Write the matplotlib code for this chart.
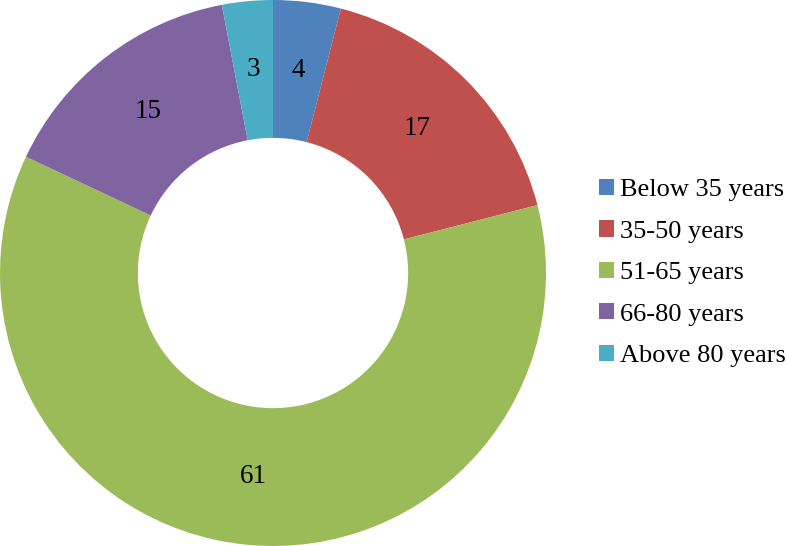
import matplotlib
matplotlib.use('Agg')
import matplotlib.pyplot as plt
from matplotlib.patches import Patch
import numpy as np

plt.rcParams['font.family'] = ['Liberation Serif', 'DejaVu Serif']

labels = ['Below 35 years', '35-50 years', '51-65 years', '66-80 years', 'Above 80 years']
values = [4, 17, 61, 15, 3]
colors = ['#4F81BD', '#C0504D', '#9BBB59', '#8064A2', '#4BACC6']

fig = plt.figure(figsize=(7.87, 5.46), dpi=100)
ax = fig.add_axes([0, 0, 546/787, 1])

wedges, texts = ax.pie(values, colors=colors, startangle=90, counterclock=False,
                       radius=1, wedgeprops=dict(width=0.505, edgecolor='none'))
# value labels in the middle of the ring
for w, v in zip(wedges, values):
    ang = np.deg2rad((w.theta1 + w.theta2) / 2)
    r = 1 - 0.505 / 2
    ax.text(r * np.cos(ang), r * np.sin(ang), str(v), ha='center', va='center', fontsize=19.5)
ax.set_xlim(-1, 1)
ax.set_ylim(-1, 1)
ax.set_aspect('equal')

handles = [Patch(facecolor=c, edgecolor='none') for c in colors]
fig.legend(handles, labels, loc='center left', bbox_to_anchor=(599/787, 0.5), frameon=False,
           fontsize=19, handlelength=0.56, handleheight=0.56, handletextpad=0.22,
           labelspacing=0.72, borderpad=0, borderaxespad=0)

fig.savefig('out.png', dpi=100)
